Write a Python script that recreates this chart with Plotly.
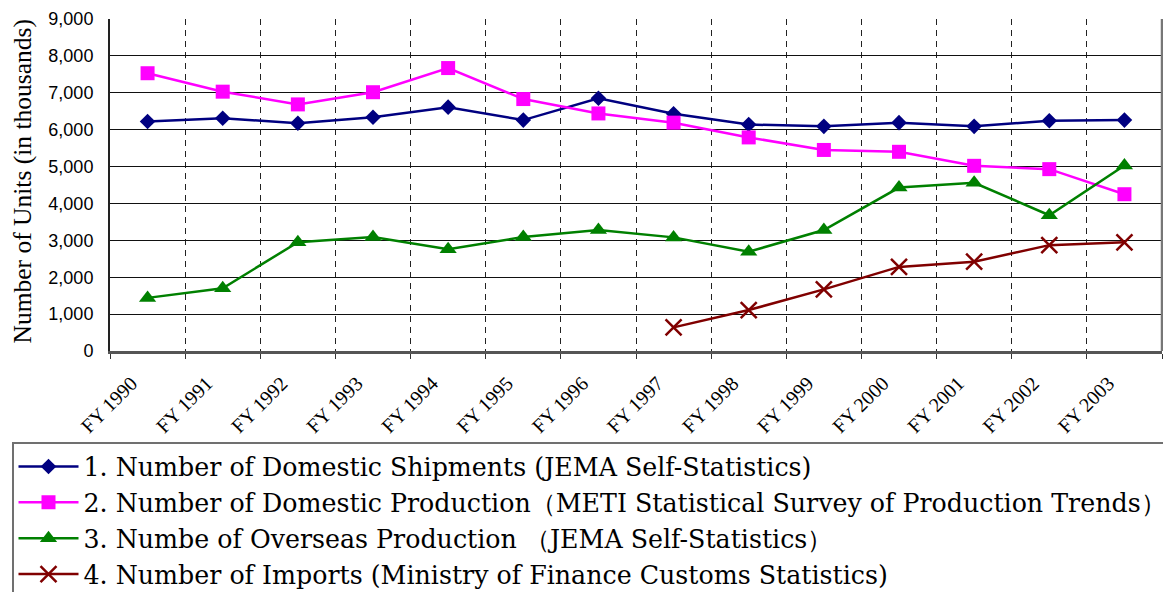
import plotly.graph_objects as go

categories = ["FY 1990", "FY 1991", "FY 1992", "FY 1993", "FY 1994", "FY 1995", "FY 1996",
              "FY 1997", "FY 1998", "FY 1999", "FY 2000", "FY 2001", "FY 2002", "FY 2003"]
shipments = [6220, 6310, 6175, 6335, 6610, 6260, 6850, 6430, 6140, 6090, 6190, 6090, 6240, 6260]
production = [7530, 7030, 6685, 7015, 7670, 6830, 6440, 6190, 5790, 5450, 5400, 5020, 4930, 4250]
overseas = [1440, 1700, 2950, 3090, 2760, 3090, 3280, 3080, 2690, 3280, 4430, 4560, 3680, 5030]
imports = [None, None, None, None, None, None, None, 640, 1110, 1670, 2280, 2420, 2870, 2945]

names = [
    "1. Number of Domestic Shipments (JEMA Self-Statistics)",
    "2. Number of Domestic Production（METI Statistical Survey of Production Trends）",
    "3. Numbe of Overseas Production （JEMA Self-Statistics）",
    "4. Number of Imports (Ministry of Finance Customs Statistics)",
]
y_title = "Number of Units (in thousands)"

SERIF = "DejaVu Serif"
W, H = 1163, 584
L, R, T, B = 102, 9, 11, 241
PW, PH = W - L - R, H - T - B

fig = go.Figure()
fig.add_trace(go.Scatter(x=categories, y=shipments, name=names[0], mode="lines+markers",
                         line=dict(color="#000080", width=2.5),
                         marker=dict(symbol="diamond", size=12, color="#000080")))
fig.add_trace(go.Scatter(x=categories, y=production, name=names[1], mode="lines+markers",
                         line=dict(color="#FF00FF", width=2.5),
                         marker=dict(symbol="square", size=14, color="#FF00FF")))
fig.add_trace(go.Scatter(x=categories, y=overseas, name=names[2], mode="lines+markers",
                         line=dict(color="#008000", width=2.5),
                         marker=dict(symbol="triangle-up", size=15, color="#008000")))
fig.add_trace(go.Scatter(x=categories, y=imports, name=names[3], mode="lines+markers",
                         line=dict(color="#800000", width=2.5),
                         marker=dict(symbol="x-thin", size=16, color="#800000",
                                     line=dict(color="#800000", width=2.5))))

fig.update_layout(
    template="none",
    width=W, height=H,
    margin=dict(l=L, r=R, t=T, b=B, autoexpand=False),
    paper_bgcolor="white", plot_bgcolor="white",
    showlegend=True,
    legend=dict(
        xref="container", yref="container", x=4 / W, y=1 - 434 / H,
        xanchor="left", yanchor="top",
        font=dict(family=SERIF, size=25.3, color="black"),
        bgcolor="white", bordercolor="#707070", borderwidth=1.5,
        itemwidth=60, tracegroupgap=0,
    ),
    shapes=[dict(type="line", xref="paper", yref="paper", x0=1, x1=1, y0=0, y1=1,
                 line=dict(color="#777777", width=2.5), layer="above")],
    annotations=[dict(text=y_title, textangle=-90, showarrow=False,
                      xref="paper", yref="paper",
                      x=(14 - L) / PW, y=1 - (173.5 - T) / PH,
                      xanchor="center", yanchor="middle",
                      font=dict(family="Liberation Serif", size=25.5, color="black"))],
)
fig.update_xaxes(
    type="category", tickson="boundaries", range=[-0.5, 13.5], automargin=False,
    showgrid=True, gridcolor="#222222", gridwidth=1, griddash="6px,5px",
    ticks="outside", ticklen=5, tickcolor="#333333", tickwidth=1,
    tickangle=-45, ticklabelstandoff=10, ticklabelshift=-16,
    tickfont=dict(family="Liberation Serif", size=20, color="black"),
    showline=True, linecolor="#555555", linewidth=2.5,
)
fig.update_yaxes(
    range=[0, 9000], dtick=1000, tickformat=",", automargin=False,
    showgrid=True, gridcolor="#111111", gridwidth=1,
    ticks="", ticklabelstandoff=11,
    tickfont=dict(family="Liberation Sans", size=18, color="black"),
    showline=True, linecolor="#222222", linewidth=2, mirror=False,
    zeroline=False,
)

fig.write_html("out.html")
